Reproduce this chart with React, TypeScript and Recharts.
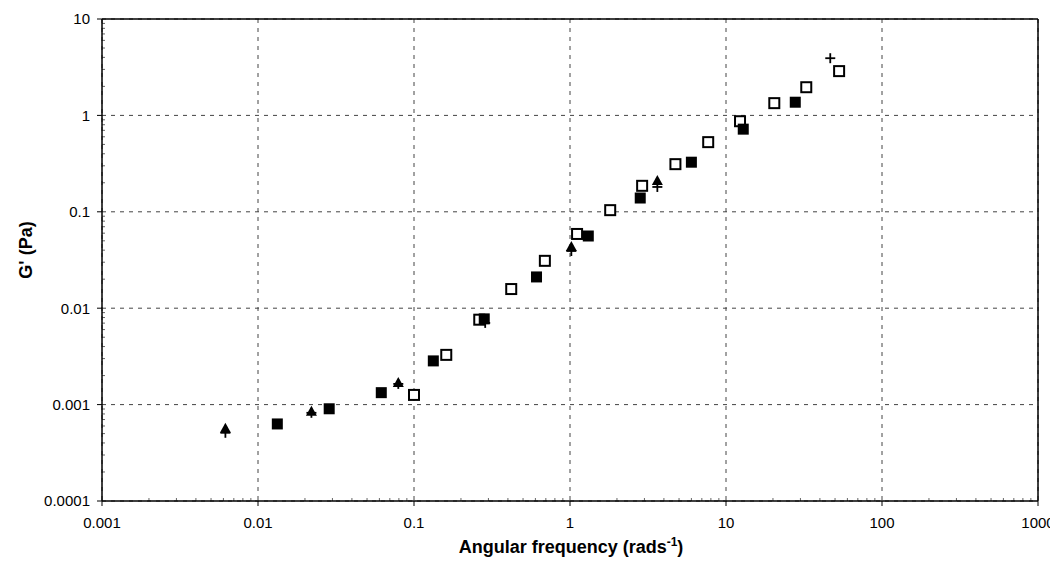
import React from "react";
import {
  ScatterChart,
  Scatter,
  XAxis,
  YAxis,
  CartesianGrid,
  ReferenceLine,
  Label,
} from "recharts";

const xTicks = [0.001, 0.01, 0.1, 1, 10, 100, 1000];
const yTicks = [0.0001, 0.001, 0.01, 0.1, 1, 10];
const xTickLabels = ["0.001", "0.01", "0.1", "1", "10", "100", "1000"];
const yTickLabels = ["0.0001", "0.001", "0.01", "0.1", "1", "10"];
const minorSteps = [2, 3, 4, 5, 6, 7, 8, 9];

const filledX = [0.0133, 0.0286, 0.0617, 0.133, 0.282, 0.61, 1.31, 2.82, 6.0, 12.9, 27.8];
const filledY = [0.00063, 0.000905, 0.00133, 0.00284, 0.00775, 0.0211, 0.0561, 0.139, 0.327, 0.72, 1.37];

const openX = [0.1, 0.161, 0.262, 0.42, 0.69, 1.11, 1.81, 2.9, 4.74, 7.69, 12.3, 20.4, 32.7, 53.1];
const openY = [0.00126, 0.00328, 0.0076, 0.0158, 0.031, 0.0589, 0.104, 0.186, 0.312, 0.528, 0.87, 1.34, 1.96, 2.88];

const triX = [0.00618, 0.022, 0.0793, 1.02, 3.63];
const triY = [0.000561, 0.000841, 0.00168, 0.0432, 0.209];

const plusX = [0.00618, 0.022, 0.0793, 0.286, 1.02, 3.63, 46.6];
const plusY = [0.00051, 0.000822, 0.00164, 0.00704, 0.0392, 0.181, 3.92];

const toData = (xs: number[], ys: number[]) => xs.map((x, i) => ({ x, y: ys[i] }));

const filledData = toData(filledX, filledY);
const openData = toData(openX, openY);
const triData = toData(triX, triY);
const plusData = toData(plusX, plusY);

const xMinor = xTicks.slice(0, -1).flatMap((d) => minorSteps.map((m) => +(d * m).toPrecision(3)));
const yMinor = yTicks.slice(0, -1).flatMap((d) => minorSteps.map((m) => +(d * m).toPrecision(3)));

const FONT = "'Liberation Sans', Arial, sans-serif";

const FilledSquare = (p: any) => (
  <rect x={p.cx - 5.5} y={p.cy - 5.5} width={11} height={11} fill="#000" />
);
const OpenSquare = (p: any) => (
  <rect x={p.cx - 5} y={p.cy - 5} width={10} height={10} fill="#fff" stroke="#000" strokeWidth={2} />
);
const Triangle = (p: any) => (
  <polygon
    points={`${p.cx},${p.cy - 6} ${p.cx - 5.5},${p.cy + 4} ${p.cx + 5.5},${p.cy + 4}`}
    fill="#000"
  />
);
const Plus = (p: any) => (
  <g stroke="#000" strokeWidth={1.8}>
    <line x1={p.cx - 5} y1={p.cy} x2={p.cx + 5} y2={p.cy} />
    <line x1={p.cx} y1={p.cy - 5} x2={p.cx} y2={p.cy + 5} />
  </g>
);

const XMinorTick = (p: any) => {
  const yb = Math.max(p.y1, p.y2);
  return <line x1={p.x1} x2={p.x1} y1={yb} y2={yb - 3} stroke="#666" strokeWidth={1} />;
};
const YMinorTick = (p: any) => {
  const xl = Math.min(p.x1, p.x2);
  return <line x1={xl} x2={xl + 3} y1={p.y1} y2={p.y1} stroke="#666" strokeWidth={1} />;
};

const fmtX = (v: number) => {
  const i = xTicks.indexOf(v);
  return i >= 0 ? xTickLabels[i] : String(v);
};
const fmtY = (v: number) => {
  const i = yTicks.indexOf(v);
  return i >= 0 ? yTickLabels[i] : String(v);
};

export default function App() {
  return (
    <div style={{ width: 1050, height: 561 }}>
      <ScatterChart
        width={1050}
        height={561}
        margin={{ top: 11, right: 20, bottom: 28, left: 34 }}
        style={{ overflow: "visible" }}
      >
        <CartesianGrid stroke="#444" strokeDasharray="4 5" strokeWidth={1} />
        <XAxis
          type="number"
          dataKey="x"
          scale="log"
          domain={[0.001, 1000]}
          ticks={xTicks}
          tickFormatter={fmtX}
          allowDataOverflow
          height={40}
          axisLine={{ stroke: "#000", strokeWidth: 1.5 }}
          tickLine={{ stroke: "#000" }}
          tickSize={5}
          tickMargin={11}
          tick={{ fill: "#000", fontSize: 15, fontFamily: FONT }}
          interval={0}
        >
          <Label
            content={() => (
              <text
                x={563}
                y={545}
                textAnchor="middle"
                fontFamily={FONT}
                fontWeight="bold"
                fontSize={18}
                fill="#000"
              >
                Angular frequency (rads
                <tspan fontSize={12} dy={-7}>-1</tspan>
                <tspan dy={7}>)</tspan>
              </text>
            )}
          />
        </XAxis>
        <YAxis
          type="number"
          dataKey="y"
          scale="log"
          domain={[0.0001, 10]}
          ticks={yTicks}
          tickFormatter={fmtY}
          allowDataOverflow
          width={60}
          axisLine={{ stroke: "#000", strokeWidth: 1.5 }}
          tickLine={{ stroke: "#000" }}
          tickSize={5}
          tickMargin={7}
          tick={{ fill: "#000", fontSize: 15, fontFamily: FONT }}
          interval={0}
        >
          <Label
            content={() => (
              <text
                x={24}
                y={242}
                transform="rotate(-90 24 242)"
                textAnchor="middle"
                fontFamily={FONT}
                fontWeight="bold"
                fontSize={18}
                fill="#000"
              >
                G' (Pa)
              </text>
            )}
          />
        </YAxis>
        {xMinor.map((v) => (
          <ReferenceLine key={"xm" + v} x={v} shape={XMinorTick} />
        ))}
        {yMinor.map((v) => (
          <ReferenceLine key={"ym" + v} y={v} shape={YMinorTick} />
        ))}
        <ReferenceLine y={10} stroke="#000" strokeWidth={1.5} />
        <ReferenceLine x={1000} stroke="#000" strokeWidth={1.5} />
        <Scatter data={openData} shape={OpenSquare} isAnimationActive={false} />
        <Scatter data={filledData} shape={FilledSquare} isAnimationActive={false} />
        <Scatter data={plusData} shape={Plus} isAnimationActive={false} />
        <Scatter data={triData} shape={Triangle} isAnimationActive={false} />
      </ScatterChart>
    </div>
  );
}
